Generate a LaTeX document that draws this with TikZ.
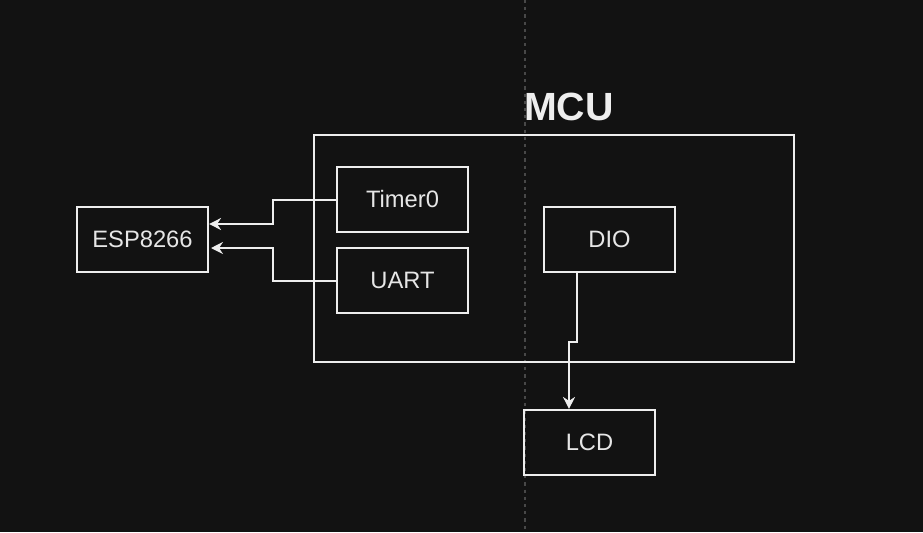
\documentclass[tikz,border=0pt]{standalone}
\usepackage{fontspec}
\setmainfont{Liberation Sans}
\usetikzlibrary{arrows.meta}
\definecolor{bg}{HTML}{121212}
\definecolor{fg}{HTML}{EEEEEE}
\definecolor{txt}{HTML}{E6E6E6}
\definecolor{guide}{HTML}{484848}
\begin{document}
\begin{tikzpicture}[x=0.75pt,y=-0.75pt,
  box/.style={draw=fg,line width=1.6pt,minimum width=131*0.75pt,minimum height=65*0.75pt,inner sep=0pt,text=txt,font=\fontsize{17.8}{21}\selectfont},
  conn/.style={draw=fg,line width=1.5pt},
  arr/.style={conn,-{Stealth[length=9pt,width=9pt,inset=3pt]}}]
\fill[bg] (0,0) rectangle (923,532);
\useasboundingbox (0,0) rectangle (923,532);
\draw[guide,line width=1.2pt,dash pattern=on 2.4pt off 3pt] (525,0) -- (525,532);
\node[draw=fg,line width=1.6pt,minimum width=480*0.75pt,minimum height=227*0.75pt,inner sep=0pt] (mcu) at (554,248.5) {};
\node[text=fg,font=\bfseries\fontsize{29.5}{33}\selectfont,anchor=base] (mcul) at (569,120) {MCU};
\node[box] (timer) at (402.5,199.5) {Timer0};
\node[box] (uart) at (402.5,280.5) {UART};
\node[box] (esp) at (142.5,239.5) {ESP8266};
\node[box] (dio) at (609.5,239.5) {DIO};
\node[box] (lcd) at (589.5,442.5) {LCD};
\coordinate (t1) at (273,199.5);
\coordinate (t2) at (273,224);
\coordinate (u1) at (273,280.5);
\coordinate (u2) at (273,248);
\coordinate (uend) at (211,248);
\coordinate (d1) at (577,342);
\coordinate (d2) at (569,342);
\draw[arr] (timer.west) -- (t1) -- (t2) -- (esp.east |- t2);
\draw[arr] (uart.west) -- (u1) -- (u2) -- (uend);
\draw[arr] (dio.south -| d1) -- (d1) -- (d2) -- (lcd.north -| d2);
\end{tikzpicture}
\end{document}
